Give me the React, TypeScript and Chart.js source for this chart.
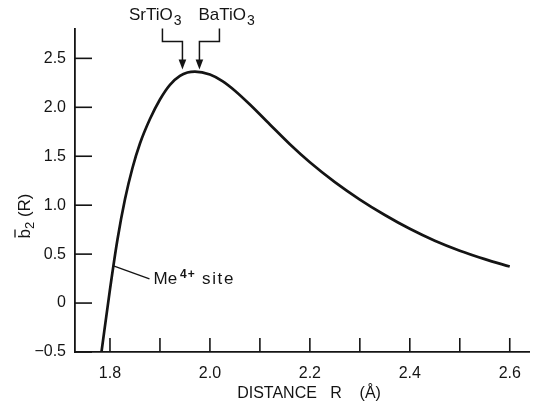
import React, { useEffect, useRef } from 'react';
import { Chart, registerables } from 'chart.js';

Chart.register(...registerables);

// ---- data ----
const distanceR = [
  1.783, 1.8, 1.815, 1.83, 1.845, 1.86, 1.88, 1.9, 1.92, 1.94, 1.955, 1.97, 2.0,
  2.025, 2.05, 2.08, 2.12, 2.16, 2.2, 2.25, 2.3, 2.35, 2.4, 2.45, 2.5, 2.55, 2.6,
];
const b2Values = [
  -0.5, 0.14, 0.65, 1.06, 1.38, 1.63, 1.88, 2.08, 2.23, 2.32, 2.355, 2.365, 2.335,
  2.268, 2.17, 2.029, 1.825, 1.623, 1.439, 1.236, 1.058, 0.9, 0.759, 0.637, 0.535, 0.449, 0.373,
];

const xTickValues = [1.8, 1.9, 2.0, 2.1, 2.2, 2.3, 2.4, 2.5, 2.6];
const xTickLabels = ['1.8', '', '2.0', '', '2.2', '', '2.4', '', '2.6'];
const yTickValues = [-0.5, 0, 0.5, 1.0, 1.5, 2.0, 2.5];
const yTickLabels = ['\u22120.5', '0', '0.5', '1.0', '1.5', '2.0', '2.5'];

const xMin = 1.73;
const xMax = 2.64;
const yMin = -0.5;
const yMax = 2.8;

// annotations
const markerNames = ['SrTiO', 'BaTiO'];
const markerSubs = ['3', '3'];
const markerR = [1.945, 1.979];
const markerTipValue = 2.385;
const siteR = 1.807;
const siteValue = 0.38;
const siteMain = 'Me';
const siteSup = '4+';
const siteRest = ' site';

const xTitle = '   DISTANCE   R    (\u00C5)';
const yTitleMain = 'b';
const yTitleSub = '2';
const yTitleRest = ' (R)';

const FONT = "'Liberation Sans', Arial, Helvetica, sans-serif";
const INK = '#141414';

const annotationPlugin = {
  id: 'paperAnnotations',
  afterDraw(chart: any) {
    const ctx: CanvasRenderingContext2D = chart.ctx;
    const xs = chart.scales.x;
    const ys = chart.scales.y;
    const area = chart.chartArea;
    ctx.save();
    ctx.strokeStyle = INK;
    ctx.fillStyle = INK;
    ctx.lineCap = 'butt';

    // inward tick marks
    ctx.lineWidth = 1.6;
    xs.ticks.forEach((t: any) => {
      const px = xs.getPixelForValue(t.value);
      ctx.beginPath();
      ctx.moveTo(px, area.bottom);
      ctx.lineTo(px, area.bottom - 14);
      ctx.stroke();
    });
    ys.ticks.forEach((t: any) => {
      const py = ys.getPixelForValue(t.value);
      ctx.beginPath();
      ctx.moveTo(area.left, py);
      ctx.lineTo(area.left + 17, py);
      ctx.stroke();
    });

    // y axis title: b-bar with subscript 2, rotated
    ctx.save();
    ctx.translate(24, 216);
    ctx.rotate(-Math.PI / 2);
    ctx.textBaseline = 'alphabetic';
    ctx.textAlign = 'left';
    ctx.font = `17px ${FONT}`;
    const wb = ctx.measureText(yTitleMain).width;
    const wr = ctx.measureText(yTitleRest).width;
    ctx.font = `13px ${FONT}`;
    const w2 = ctx.measureText(yTitleSub).width;
    const total = wb + w2 + wr;
    let cx = -total / 2;
    const base = 6;
    ctx.font = `17px ${FONT}`;
    ctx.fillText(yTitleMain, cx, base);
    ctx.lineWidth = 1.3;
    ctx.beginPath();
    ctx.moveTo(cx + 1, base - 15);
    ctx.lineTo(cx + wb - 0.5, base - 15);
    ctx.stroke();
    cx += wb;
    ctx.font = `13px ${FONT}`;
    ctx.fillText(yTitleSub, cx, base + 4);
    cx += w2;
    ctx.font = `17px ${FONT}`;
    ctx.fillText(yTitleRest, cx, base);
    ctx.restore();

    // SrTiO3 / BaTiO3 bracket arrows
    const tipY = ys.getPixelForValue(markerTipValue);
    markerNames.forEach((name, i) => {
      const tipX = xs.getPixelForValue(markerR[i]);
      const outerX = i === 0 ? tipX - 20 : tipX + 20;
      const bendY = tipY - 28;
      const topY = tipY - 41;
      ctx.lineWidth = 1.5;
      ctx.beginPath();
      ctx.moveTo(outerX, topY);
      ctx.lineTo(outerX, bendY);
      ctx.lineTo(tipX, bendY);
      ctx.lineTo(tipX, tipY - 7);
      ctx.stroke();
      ctx.beginPath();
      ctx.moveTo(tipX, tipY);
      ctx.lineTo(tipX - 3.8, tipY - 10);
      ctx.lineTo(tipX + 3.8, tipY - 10);
      ctx.closePath();
      ctx.fill();

      ctx.textBaseline = 'alphabetic';
      ctx.textAlign = 'left';
      ctx.font = `17px ${FONT}`;
      const mainW = ctx.measureText(name).width;
      ctx.font = `14px ${FONT}`;
      const subW = ctx.measureText(markerSubs[i]).width;
      const tw = mainW + 1 + subW;
      const startX = i === 0 ? tipX - tw - 1 : tipX - 1;
      const b = tipY - 50;
      ctx.font = `17px ${FONT}`;
      ctx.fillText(name, startX, b);
      ctx.font = `14px ${FONT}`;
      ctx.fillText(markerSubs[i], startX + mainW + 1, b + 5);
    });

    // Me4+ site leader and label
    const sx = xs.getPixelForValue(siteR);
    const sy = ys.getPixelForValue(siteValue);
    ctx.lineWidth = 1.3;
    ctx.beginPath();
    ctx.moveTo(sx, sy);
    ctx.lineTo(sx + 36, sy + 13);
    ctx.stroke();
    const tx = sx + 40;
    const tb = sy + 18;
    ctx.font = `17px ${FONT}`;
    ctx.fillText(siteMain, tx, tb);
    const mw = ctx.measureText(siteMain).width;
    ctx.font = `bold 12px ${FONT}`;
    (ctx as any).letterSpacing = '1px';
    ctx.fillText(siteSup, tx + mw + 3, tb - 6);
    const sw = ctx.measureText(siteSup).width;
    ctx.font = `17px ${FONT}`;
    (ctx as any).letterSpacing = '1.6px';
    ctx.fillText(siteRest, tx + mw + 3 + sw, tb);
    (ctx as any).letterSpacing = '0px';

    ctx.restore();
  },
};

export default function App() {
  const canvasRef = useRef<HTMLCanvasElement | null>(null);

  useEffect(() => {
    if (!canvasRef.current) return;
    const points = distanceR.map((r, i) => ({ x: r, y: b2Values[i] }));
    const chart = new Chart(canvasRef.current, {
      type: 'line',
      data: {
        datasets: [
          {
            data: points,
            borderColor: INK,
            borderWidth: 2.7,
            pointRadius: 0,
            fill: false,
            cubicInterpolationMode: 'monotone',
          },
        ],
      },
      options: {
        animation: false,
        responsive: false,
        events: [],
        layout: { padding: { top: 29, right: 3, left: 0, bottom: 0 } },
        plugins: {
          legend: { display: false },
          tooltip: { enabled: false },
          title: { display: false },
        },
        scales: {
          x: {
            type: 'linear',
            min: xMin,
            max: xMax,
            afterBuildTicks: (axis: any) => {
              axis.ticks = xTickValues.map((v) => ({ value: v }));
            },
            afterFit: (axis: any) => {
              axis.height = 50;
            },
            grid: { display: true, drawOnChartArea: false, drawTicks: false },
            border: { display: true, color: INK, width: 1.8 },
            ticks: {
              color: INK,
              padding: 12,
              maxRotation: 0,
              autoSkip: false,
              font: { family: FONT, size: 16 },
              callback: (_v: any, i: number) => xTickLabels[i],
            },
            title: {
              display: true,
              text: xTitle,
              color: INK,
              font: { family: FONT, size: 16 },
              padding: { top: 0, bottom: -1 },
            },
          },
          y: {
            type: 'linear',
            min: yMin,
            max: yMax,
            afterBuildTicks: (axis: any) => {
              axis.ticks = yTickValues.map((v) => ({ value: v }));
            },
            afterFit: (axis: any) => {
              axis.width = 75;
            },
            grid: { display: true, drawOnChartArea: false, drawTicks: false },
            border: { display: true, color: INK, width: 1.8 },
            ticks: {
              color: INK,
              padding: 9,
              autoSkip: false,
              font: { family: FONT, size: 16 },
              callback: (_v: any, i: number) => yTickLabels[i],
            },
            title: { display: false },
          },
        },
      },
      plugins: [annotationPlugin],
    } as any);
    return () => chart.destroy();
  }, []);

  return (
    <div style={{ position: 'fixed', left: 0, top: 0, width: 533, height: 402, background: '#fff' }}>
      <canvas ref={canvasRef} width={533} height={402} style={{ display: 'block' }} />
    </div>
  );
}
